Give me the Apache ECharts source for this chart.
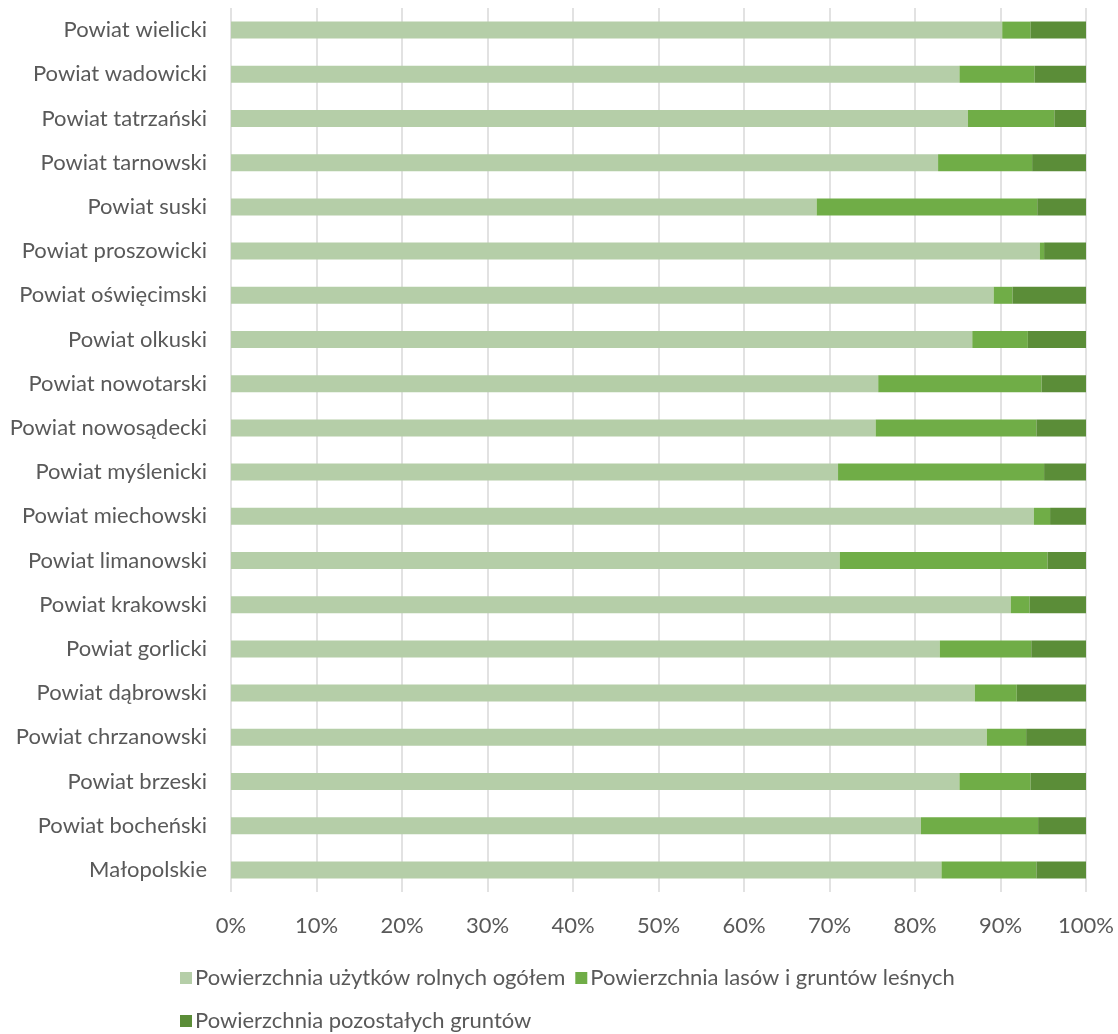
<!DOCTYPE html>
<html>
<head>
<meta charset="utf-8">
<script src="https://cdn.jsdelivr.net/npm/echarts@6/dist/echarts.min.js"></script>
<style>
html,body{margin:0;padding:0;background:#fff;}
#chart{width:1118px;height:1034px;}
</style>
</head>
<body>
<div id="chart"></div>
<script>
const categories = [
  "Małopolskie","Powiat bocheński","Powiat brzeski","Powiat chrzanowski","Powiat dąbrowski",
  "Powiat gorlicki","Powiat krakowski","Powiat limanowski","Powiat miechowski","Powiat myślenicki",
  "Powiat nowosądecki","Powiat nowotarski","Powiat olkuski","Powiat oświęcimski","Powiat proszowicki",
  "Powiat suski","Powiat tarnowski","Powiat tatrzański","Powiat wadowicki","Powiat wielicki"
];
const seriesNames = [
  "Powierzchnia użytków rolnych ogółem",
  "Powierzchnia lasów i gruntów leśnych",
  "Powierzchnia pozostałych gruntów"
];
const agricultural = [83.1,80.7,85.2,88.4,87.0,82.9,91.2,71.2,93.9,71.0,75.4,75.7,86.7,89.2,94.6,68.5,82.7,86.2,85.2,90.2];
const forest       = [11.1,13.7, 8.3, 4.6, 4.9,10.7, 2.2,24.3, 1.9,24.1,18.8,19.1, 6.5, 2.2, 0.5,25.8,11.0,10.1, 8.8, 3.3];
const other        = [ 5.8, 5.6, 6.5, 7.0, 8.1, 6.4, 6.6, 4.5, 4.2, 4.9, 5.8, 5.2, 6.8, 8.6, 4.9, 5.7, 6.3, 3.7, 6.0, 6.5];
const xTicks = [0,10,20,30,40,50,60,70,80,90,100];

const colors = ["#b5cea8","#70ad47","#5b8d38"];
const font = "Lato, 'Noto Sans', sans-serif";
const textColor = "#595959";
const fs = 22;

const chart = echarts.init(document.getElementById('chart'), null, {renderer:'canvas'});
const dataSets = [agricultural, forest, other];
chart.setOption({
  animation:false,
  color: colors,
  grid:{left:231, right:32, top:8, bottom:142, containLabel:false},
  xAxis:{
    type:'value', min:xTicks[0], max:xTicks[xTicks.length-1], interval:10,
    axisLine:{show:false}, axisTick:{show:false},
    splitLine:{show:true, lineStyle:{color:'#d9d9d9', width:1.5}},
    axisLabel:{formatter:'{value}%', color:textColor, fontFamily:font, fontSize:fs, margin:23}
  },
  yAxis:{
    type:'category', data:categories,
    axisLine:{show:false}, axisTick:{show:false},
    axisLabel:{color:textColor, fontFamily:font, fontSize:fs, margin:24}
  },
  legend:[
    {data:[seriesNames[0],seriesNames[1]], left:175, top:962, itemWidth:12, itemHeight:12, itemGap:10,
     icon:'rect', textStyle:{color:textColor, fontFamily:font, fontSize:fs, padding:[0,0,0,-2]}},
    {data:[seriesNames[2]], left:175, top:1005, itemWidth:12, itemHeight:12, itemGap:10,
     icon:'rect', textStyle:{color:textColor, fontFamily:font, fontSize:fs, padding:[0,0,0,-2]}}
  ],
  series: seriesNames.map((n,i)=>({
    name:n, type:'bar', stack:'total', barWidth:17,
    data:dataSets[i],
    itemStyle:{color:colors[i]}
  }))
});
</script>
</body>
</html>
